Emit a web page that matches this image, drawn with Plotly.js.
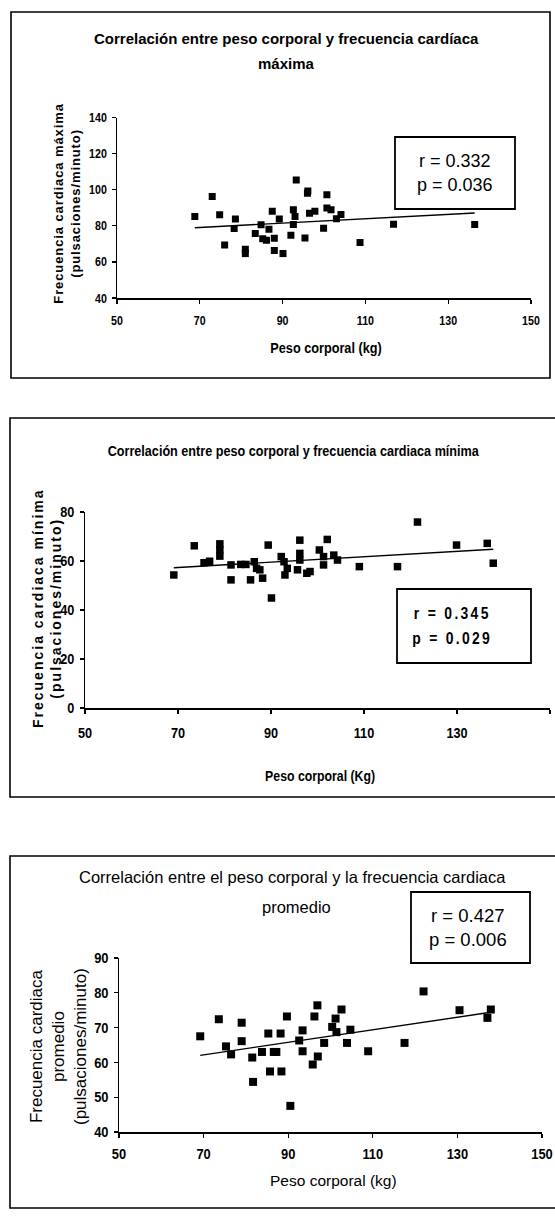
<!DOCTYPE html>
<html><head><meta charset="utf-8">
<script src="https://cdn.plot.ly/plotly-3.0.1.min.js"></script>
<style>html,body{margin:0;padding:0;background:#fff}</style>
</head><body>
<div id="chart" style="width:555px;height:1216px"></div>
<script>
// ---------- data ----------
const xTicks = [50, 70, 90, 110, 130, 150];

// Chart 1: frecuencia cardiaca máxima
const pesoMax = [68.8, 73.0, 74.8, 76.0, 78.6, 78.3, 81.0, 81.0, 83.4, 84.8, 85.2, 86.1, 86.7, 87.5, 88.0, 88.0, 89.2, 90.1, 92.0, 92.6, 92.6, 93.0, 93.3, 95.4, 96.0, 96.1, 96.5, 97.8, 99.9, 100.7, 100.7, 101.7, 103.0, 104.1, 108.7, 116.8, 136.4];
const fcMax   = [85.2, 96.3, 86.1, 69.4, 83.7, 78.5, 67.0, 64.6, 75.7, 80.6, 72.8, 72.0, 78.1, 88.1, 73.1, 66.3, 83.7, 64.6, 74.8, 88.9, 80.7, 85.2, 105.4, 73.3, 98.0, 99.3, 86.9, 88.1, 78.7, 97.2, 89.8, 88.9, 83.9, 86.3, 70.7, 80.9, 80.7];
const yTicksMax = [40, 60, 80, 100, 120, 140];
const statsMax = ["r = 0.332", "p = 0.036"];

// Chart 2: frecuencia cardiaca mínima
const pesoMin = [69.1, 73.5, 75.6, 76.8, 79.0, 79.0, 79.0, 81.4, 81.4, 83.5, 84.6, 85.6, 86.4, 86.9, 87.6, 88.2, 89.4, 90.1, 92.2, 92.8, 93.0, 93.5, 95.7, 96.2, 96.2, 96.2, 97.7, 98.4, 100.4, 101.3, 101.3, 102.1, 103.5, 104.3, 109.0, 117.2, 121.5, 129.9, 136.5, 137.8];
const fcMin   = [54.3, 66.2, 59.3, 59.9, 67.0, 64.5, 62.0, 58.4, 52.3, 58.6, 58.6, 52.3, 59.7, 57.0, 56.4, 53.0, 66.5, 44.9, 61.8, 59.7, 54.3, 57.0, 56.4, 68.5, 63.1, 60.4, 55.0, 55.7, 64.5, 61.8, 58.4, 68.8, 62.4, 60.4, 57.7, 57.7, 75.9, 66.5, 67.2, 59.1];
const yTicksMin = [0, 20, 40, 60, 80];
const statsMin = ["r = 0.345", "p = 0.029"];

// Chart 3: frecuencia cardiaca promedio
const pesoProm = [69.2, 73.6, 75.3, 76.5, 79.0, 79.0, 81.5, 81.7, 83.8, 85.3, 85.7, 86.6, 87.2, 88.2, 88.4, 89.7, 90.5, 92.6, 93.4, 93.4, 95.8, 96.2, 96.9, 97.0, 98.5, 100.4, 101.2, 101.4, 102.6, 103.9, 104.7, 108.9, 117.5, 122.0, 130.5, 137.1, 137.9];
const fcProm   = [67.5, 72.4, 64.6, 62.3, 71.4, 66.1, 61.4, 54.4, 63.0, 68.3, 57.4, 63.0, 63.0, 68.3, 57.4, 73.2, 47.5, 66.3, 69.2, 63.2, 59.4, 73.2, 76.4, 61.7, 65.6, 70.2, 72.6, 68.7, 75.2, 65.6, 69.4, 63.2, 65.6, 80.4, 75.0, 72.8, 75.2];
const yTicksProm = [40, 50, 60, 70, 80, 90];
const statsProm = ["r = 0.427", "p = 0.006"];

// ---------- helpers ----------
const W = 555, H = 1216;
const px = x => x / W, py = y => 1 - y / H;
const SANS = "'Liberation Sans', Arial, sans-serif";

function fit(xs, ys) {
  const n = xs.length;
  const mx = xs.reduce((a, b) => a + b, 0) / n;
  const my = ys.reduce((a, b) => a + b, 0) / n;
  let sxy = 0, sxx = 0;
  for (let i = 0; i < n; i++) { sxy += (xs[i] - mx) * (ys[i] - my); sxx += (xs[i] - mx) ** 2; }
  const m = sxy / sxx;
  return { m, b: my - m * mx };
}
function scatter(xs, ys, xa, ya, size) {
  return { x: xs, y: ys, type: 'scatter', mode: 'markers', xaxis: xa, yaxis: ya,
    marker: { symbol: 'square', size: size, color: '#000' }, hoverinfo: 'skip', showlegend: false };
}
function trend(xs, ys, xa, ya) {
  const f = fit(xs, ys);
  const x0 = Math.min(...xs), x1 = Math.max(...xs);
  return { x: [x0, x1], y: [f.b + f.m * x0, f.b + f.m * x1], type: 'scatter', mode: 'lines',
    xaxis: xa, yaxis: ya, line: { color: '#000', width: 1.4 }, hoverinfo: 'skip', showlegend: false };
}
function xAxis(domain, anchor, font, standoff) {
  return { domain: domain, anchor: anchor, range: [50, 150], tickvals: xTicks, ticktext: xTicks.map(String),
    showline: true, linecolor: '#000', linewidth: 1.5, ticks: 'outside', ticklen: 4, tickwidth: 1.3, tickcolor: '#000',
    showgrid: false, zeroline: false, tickfont: font, ticklabelstandoff: standoff, fixedrange: true };
}
function yAxis(domain, anchor, range, ticks, font) {
  return { domain: domain, anchor: anchor, range: range, tickvals: ticks, ticktext: ticks.map(String),
    showline: true, linecolor: '#000', linewidth: 1.5, ticks: 'outside', ticklen: 4, tickwidth: 1.3, tickcolor: '#000',
    showgrid: false, zeroline: false, tickfont: font, ticklabelstandoff: 2, fixedrange: true };
}
function ann(text, x, y, font, extra) {
  return Object.assign({ text: text, xref: 'paper', yref: 'paper', x: px(x), y: py(y),
    xanchor: 'center', yanchor: 'middle', showarrow: false, font: font }, extra || {});
}
function rectPx(x0, y0, x1, y1, fill, width) {
  return { type: 'rect', xref: 'paper', yref: 'paper', x0: px(x0), x1: px(x1), y0: py(y0), y1: py(y1),
    line: { color: '#000', width: width }, fillcolor: fill, layer: 'above' };
}

const traces = [
  scatter(pesoMax, fcMax, 'x', 'y', 7), trend(pesoMax, fcMax, 'x', 'y'),
  scatter(pesoMin, fcMin, 'x2', 'y2', 7.5), trend(pesoMin, fcMin, 'x2', 'y2'),
  scatter(pesoProm, fcProm, 'x3', 'y3', 8), trend(pesoProm, fcProm, 'x3', 'y3')
];

const f1tick = { family: SANS, size: 13, color: '#000', weight: 'bold' };
const f2tick = { family: SANS, size: 15.5, color: '#000', weight: 'bold' };
const f3tick = { family: SANS, size: 15, color: '#000', weight: 'bold' };

const layout = {
  width: W, height: H, margin: { l: 0, r: 0, t: 0, b: 0 },
  paper_bgcolor: '#fff', plot_bgcolor: 'rgba(0,0,0,0)', showlegend: false,
  xaxis:  xAxis([px(117), px(531)], 'y', f1tick, 6),
  yaxis:  yAxis([py(298), py(117.5)], 'x', [40, 140], yTicksMax, f1tick),
  xaxis2: xAxis([px(85), px(550)], 'y2', f2tick, 6),
  yaxis2: yAxis([py(708), py(512)], 'x2', [0, 80], yTicksMin, f2tick),
  xaxis3: xAxis([px(119), px(542)], 'y3', f3tick, 4),
  yaxis3: yAxis([py(1132), py(958)], 'x3', [40, 90], yTicksProm, f3tick),
  shapes: [
    rectPx(11, 12, 550, 378, 'rgba(0,0,0,0)', 1.6),
    rectPx(10, 418, 556, 797, 'rgba(0,0,0,0)', 1.6),
    rectPx(10, 856, 556, 1208, 'rgba(0,0,0,0)', 1.6),
    rectPx(395, 137, 515, 209, '#fff', 1.8),
    rectPx(397, 589, 531, 663, '#fff', 1.8),
    rectPx(411, 892, 530, 963, '#fff', 1.8)
  ],
  annotations: [
    // chart 1
    ann('Correlación entre peso corporal y frecuencia cardíaca', 286, 38, { family: SANS, size: 15, color: '#000', weight: 'bold' }),
    ann('máxima', 286, 64, { family: SANS, size: 15, color: '#000', weight: 'bold' }),
    ann('Frecuencia cardiaca máxima<br>(pulsaciones/minuto)', 67, 203, { family: SANS, size: 13, color: '#000', weight: 'bold' }, { textangle: -90 }),
    ann('Peso corporal (kg)', 326, 348, { family: SANS, size: 15.5, color: '#000', weight: 'bold' }),
    ann(statsMax[0], 455, 161, { family: SANS, size: 18, color: '#000' }),
    ann(statsMax[1], 455, 185, { family: SANS, size: 18, color: '#000' }),
    // chart 2
    ann('Correlación entre peso corporal y frecuencia cardiaca mínima', 293, 450, { family: SANS, size: 15.4, color: '#000', weight: 'bold' }),
    ann('Frecuencia cardiaca mínima<br>(pulsaciones/minuto)', 47, 608, { family: SANS, size: 14, color: '#000', weight: 'bold' }, { textangle: -90 }),
    ann('Peso corporal (Kg)', 320, 775, { family: SANS, size: 15, color: '#000', weight: 'bold' }),
    ann(statsMin[0], 452, 613, { family: SANS, size: 17, color: '#000', weight: 'bold' }),
    ann(statsMin[1], 452, 638, { family: SANS, size: 17, color: '#000', weight: 'bold' }),
    // chart 3
    ann('Correlación entre el peso corporal y la frecuencia cardiaca', 292, 877, { family: SANS, size: 16.5, color: '#000' }),
    ann('promedio', 296, 907, { family: SANS, size: 16.5, color: '#000' }),
    ann('Frecuencia cardiaca<br>promedio<br>(pulsaciones/minuto)', 58, 1047, { family: SANS, size: 17, color: '#000' }, { textangle: -90 }),
    ann('Peso corporal (kg)', 333, 1180, { family: SANS, size: 15.5, color: '#000' }),
    ann(statsProm[0], 468, 915, { family: SANS, size: 18.5, color: '#000' }),
    ann(statsProm[1], 468, 939, { family: SANS, size: 18.5, color: '#000' })
  ]
};

// horizontal condensing (emulates Arial Narrow, which is not installed)
function condense(el, k) {
  const ax = parseFloat(el.getAttribute('x')) || 0;
  const t = el.getAttribute('transform') || '';
  el.setAttribute('transform', t + ' translate(' + ax + ',0) scale(' + k + ',1) translate(' + (-ax) + ',0)');
}

Plotly.newPlot('chart', traces, layout, { staticPlot: true, displayModeBar: false }).then(() => {
  const spacing = {
    'Frecuencia cardiaca máxima': '0.9px',
    'Frecuencia cardiaca mínima': '2px',
    'r = 0.345': '2.8px',
    'p = 0.029': '2.8px'
  };
  const narrow = {
    'Peso corporal (kg)': 0.82,
    'Correlación entre peso corporal y frecuencia cardiaca mínima': 0.82,
    'Peso corporal (Kg)': 0.82,
    'r = 0.345': 0.82,
    'p = 0.029': 0.82
  };
  const anns = document.querySelectorAll('.annotation-text');
  let pesoSeen = 0;
  anns.forEach(t => {
    const s = t.textContent;
    for (const k in spacing) if (s.indexOf(k) === 0) t.style.letterSpacing = spacing[k];
    if (s === 'Peso corporal (kg)') { pesoSeen++; if (pesoSeen === 1) condense(t, 0.82); return; }
    if (narrow[s]) condense(t, narrow[s]);
  });
  document.querySelectorAll('g.xtick > text, g.ytick > text').forEach(t => condense(t, 0.82));
  document.querySelectorAll('g.x2tick > text, g.y2tick > text').forEach(t => condense(t, 0.82));
  document.querySelectorAll('g.x3tick > text, g.y3tick > text').forEach(t => condense(t, 0.86));
});
</script>
</body></html>
